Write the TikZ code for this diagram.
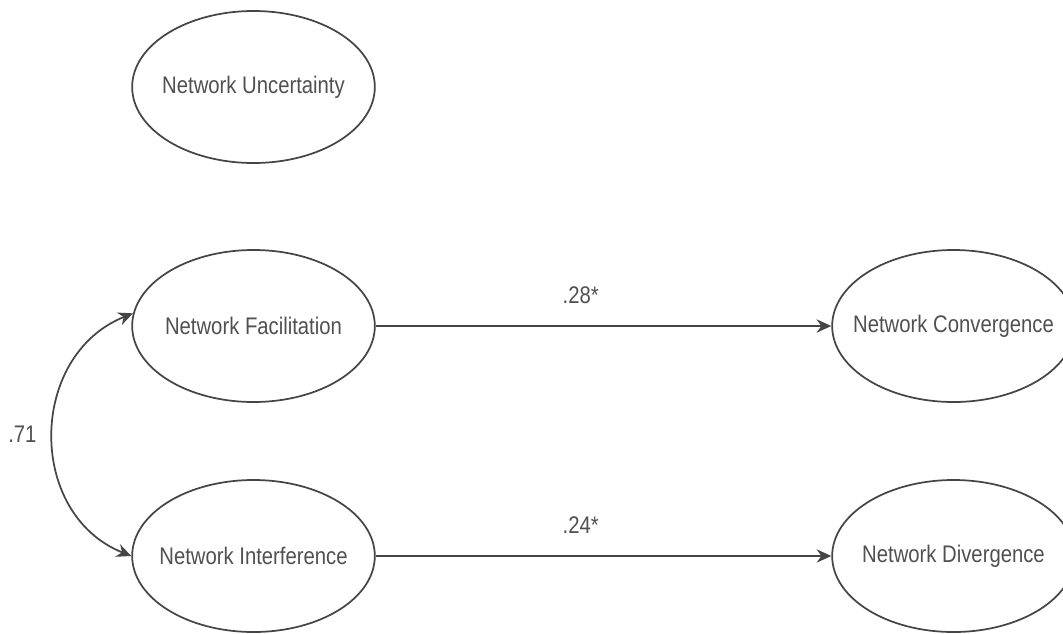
\documentclass[tikz,border=0pt]{standalone}
\usepackage{fontspec}
\setmainfont[FakeStretch=0.845]{Liberation Sans}
\usetikzlibrary{shapes.geometric,arrows.meta}
\definecolor{linegray}{HTML}{454545}
\definecolor{textgray}{HTML}{505050}
\tikzstyle{latent} = [ellipse, draw=linegray, line width=1.3pt, minimum width=182pt, minimum height=114pt, inner sep=0pt, text=textgray, font=\fontsize{18}{20}\selectfont]
\tikzstyle{effect} = [line width=1.3pt, draw=linegray, >={Stealth[length=11pt,width=10pt]}]
\tikzstyle{coef} = [inner sep=0pt, text=textgray, font=\fontsize{18}{20}\selectfont]

\begin{document}
\begin{tikzpicture}[x=0.75pt,y=-0.75pt]
    \useasboundingbox (0,0) rectangle (1063,633);
    \node [latent] (unc) at (253.5,87) {\makebox[0pt]{Network Uncertainty}};
    \node [latent] (fac) at (253.5,326) {\makebox[0pt]{Network Facilitation}};
    \node [latent] (int) at (253.5,556) {\makebox[0pt]{Network Interference}};
    \node [latent] (conv) at (953.5,326) {\makebox[0pt]{Network Convergence}};
    \node [latent] (div) at (953.5,556) {\makebox[0pt]{Network Divergence}};
    \draw [effect,->] (fac) -- node [coef,pos=0.45,above=16pt] (b1) {.28*} (conv);
    \draw [effect,->] (int) -- node [coef,pos=0.45,above=16pt] (b2) {.24*} (div);
    \draw [effect,<->] (fac.174) .. controls +(-105,42) and +(-105,-42) .. node [coef,left=12pt] (r) {.71} (int.west);
\end{tikzpicture}
\end{document}
